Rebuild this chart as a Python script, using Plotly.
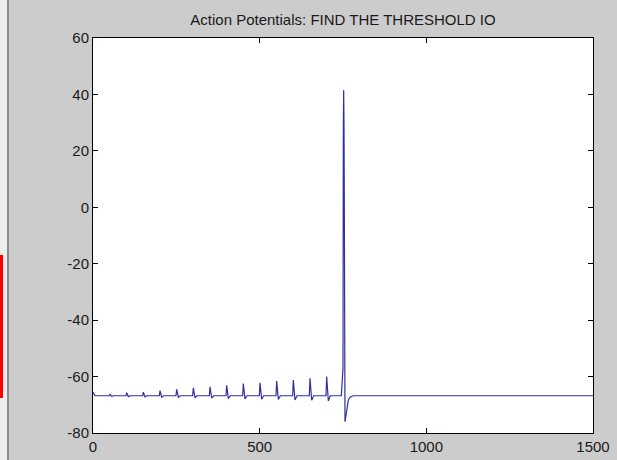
import plotly.graph_objects as go

# ---- data ----
baseline = -66.8
start_t = [0, 6]
start_v = [-65.6, -66.8]

stim_times = [50, 100, 150, 200, 250, 300, 350, 400, 450, 500, 550, 600, 650, 700]
stim_peaks = [-66.3, -65.7, -65.5, -65.0, -64.5, -64.0, -63.6, -63.1, -62.5, -62.2, -61.6, -61.2, -60.6, -60.0]
stim_troughs = [-67.0, -67.1, -67.2, -67.3, -67.4, -67.5, -67.6, -67.8, -67.9, -68.0, -68.1, -68.3, -68.4, -68.6]

ap_t = [745, 748, 750, 751, 752, 753, 754, 756, 760, 766, 772, 780]
ap_v = [-66.8, -62.0, -57.0, 28.0, 41.5, 30.0, 0.0, -76.0, -73.0, -68.3, -67.2, -66.8]

end_t = [1500]
end_v = [-66.8]

x_ticks = [0, 500, 1000, 1500]
y_ticks = [-80, -60, -40, -20, 0, 20, 40, 60]

# ---- build the trace ----
t = list(start_t)
v = list(start_v)
for st, pk, tr in zip(stim_times, stim_peaks, stim_troughs):
    t += [st - 1, st + 1, st + 6, st + 12]
    v += [baseline, pk, tr, baseline]
t += ap_t + end_t
v += ap_v + end_v

fig = go.Figure()
fig.add_trace(go.Scatter(x=t, y=v, mode="lines",
                         line=dict(color="#3030a0", width=1.2),
                         hoverinfo="skip", showlegend=False))

bg = "#cccccc"
W, H = 617, 460
L, R, T, B = 93, 24, 38, 27
pw, ph = W - L - R, H - T - B

def px(xp):
    return (xp - L) / pw

def py(yp):
    return (H - B - yp) / ph

shapes = [
    dict(type="rect", xref="paper", yref="paper", x0=px(0), x1=px(7), y0=py(H), y1=py(0),
         fillcolor="#eeeeee", line=dict(width=0), layer="below"),
    dict(type="rect", xref="paper", yref="paper", x0=px(7), x1=px(9), y0=py(H), y1=py(0),
         fillcolor="#8c8c8c", line=dict(width=0), layer="below"),
    dict(type="rect", xref="paper", yref="paper", x0=px(0), x1=px(3), y0=py(398), y1=py(255),
         fillcolor="#ff0000", line=dict(width=0), layer="below"),
]

font_family = "Liberation Sans, Arial, sans-serif"
axis_common = dict(showgrid=False, zeroline=False, showline=True, linecolor="black",
                   linewidth=1, mirror="ticks", ticks="inside", ticklen=5,
                   automargin=False,
                   tickcolor="black", tickfont=dict(family=font_family, size=15,
                                                     color="#1a1a1a"))

fig.update_layout(
    width=W, height=H, autosize=False,
    margin=dict(l=L, r=R, t=T, b=B, pad=0, autoexpand=False),
    paper_bgcolor=bg, plot_bgcolor="white",
    title=dict(text="Action Potentials: FIND THE THRESHOLD IO", automargin=False,
               x=(L + pw / 2) / W, xanchor="center", y=1 - 20 / H, yanchor="middle",
               font=dict(family=font_family, size=15, color="#1a1a1a")),
    xaxis=dict(range=[0, 1500], tickvals=x_ticks, ticktext=[str(x) for x in x_ticks],
               **axis_common),
    yaxis=dict(range=[-80, 60], tickvals=y_ticks, ticktext=[str(y) for y in y_ticks],
               **axis_common),
    shapes=shapes,
)

fig.write_html("out.html", config={"displayModeBar": False},
               post_script="document.body.style.margin='0';document.body.style.overflow='hidden';")
